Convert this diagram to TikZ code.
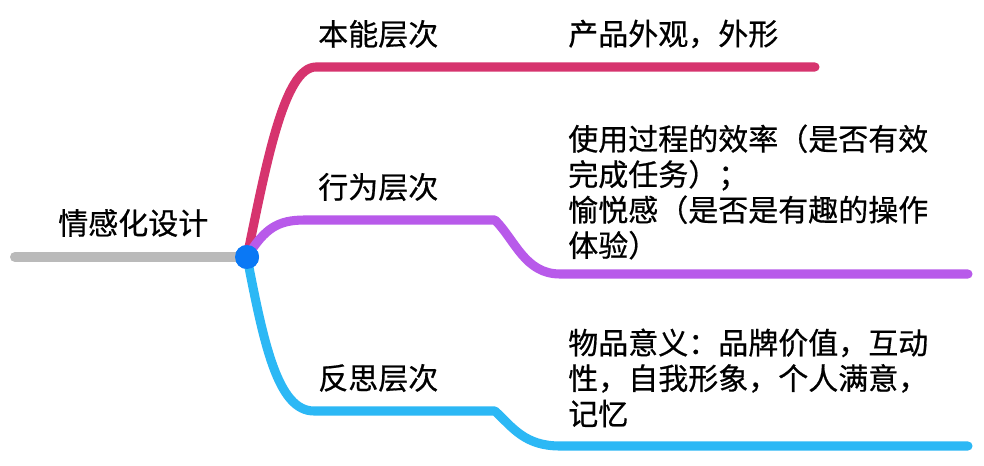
\documentclass[tikz,border=0pt]{standalone}
\usepackage{fontspec}
\newfontfamily\cjk[FakeBold=0.6]{Noto Sans CJK SC}
\definecolor{cRed}{RGB}{214,52,110}
\definecolor{cPurple}{RGB}{184,90,234}
\definecolor{cBlue}{RGB}{44,184,245}
\definecolor{cDot}{RGB}{10,120,245}
\definecolor{cGray}{RGB}{186,186,186}
\begin{document}
\begin{tikzpicture}[x=0.75pt,y=-0.75pt,
  font=\cjk\fontsize{22.5pt}{26.6pt}\selectfont,
  branch/.style={line width=6.8pt, line cap=round, line join=round},
  lbl/.style={anchor=west, inner sep=0pt, text=black},
  txt/.style={anchor=west, inner sep=0pt, align=left, text=black}]
\useasboundingbox (0,0) rectangle (984,466);
\fill[white] (0,0) rectangle (984,466);
% hub
\node[circle, fill=cDot, minimum size=18pt, inner sep=0pt] (hub) at (247,257) {};
\coordinate (gstart) at (15,257);
\coordinate (rend) at (815,67);
\coordinate (pend) at (968,274);
\coordinate (bend) at (968,446);
% connectors
\draw[branch, cGray, line width=7.5pt] (gstart) -- (hub.center);
\draw[branch, cRed] (hub.center) .. controls (266,165) and (284,67) .. (316,67) -- (rend);
\draw[branch, cPurple] (hub.center) .. controls (265,228) and (278,220) .. (305,220) -- (495,220)
   .. controls (515,240) and (525,274) .. (560,274) -- (pend);
\draw[branch, cBlue] (hub.center) .. controls (264,345) and (278,411) .. (314,411) -- (495,411)
   .. controls (513,428) and (525,446) .. (560,446) -- (bend);
\node[circle, fill=cDot, minimum size=18pt, inner sep=0pt] at (hub.center) {};
% labels
\node[lbl] (root) at (58,223) {情感化设计};
\node[lbl] (t1) at (318,34) {本能层次};
\node[lbl] (d1) at (568,34) {产品外观，外形};
\node[lbl] (t2) at (318,187) {行为层次};
\node[txt] (d2) at (568,192) {使用过程的效率（是否有效\\完成任务）；\\愉悦感（是否是有趣的操作\\体验）};
\node[lbl] (t3) at (318,378) {反思层次};
\node[txt] (d3) at (568,378) {物品意义：品牌价值，互动\\性，自我形象，个人满意，\\记忆};
\end{tikzpicture}
\end{document}
